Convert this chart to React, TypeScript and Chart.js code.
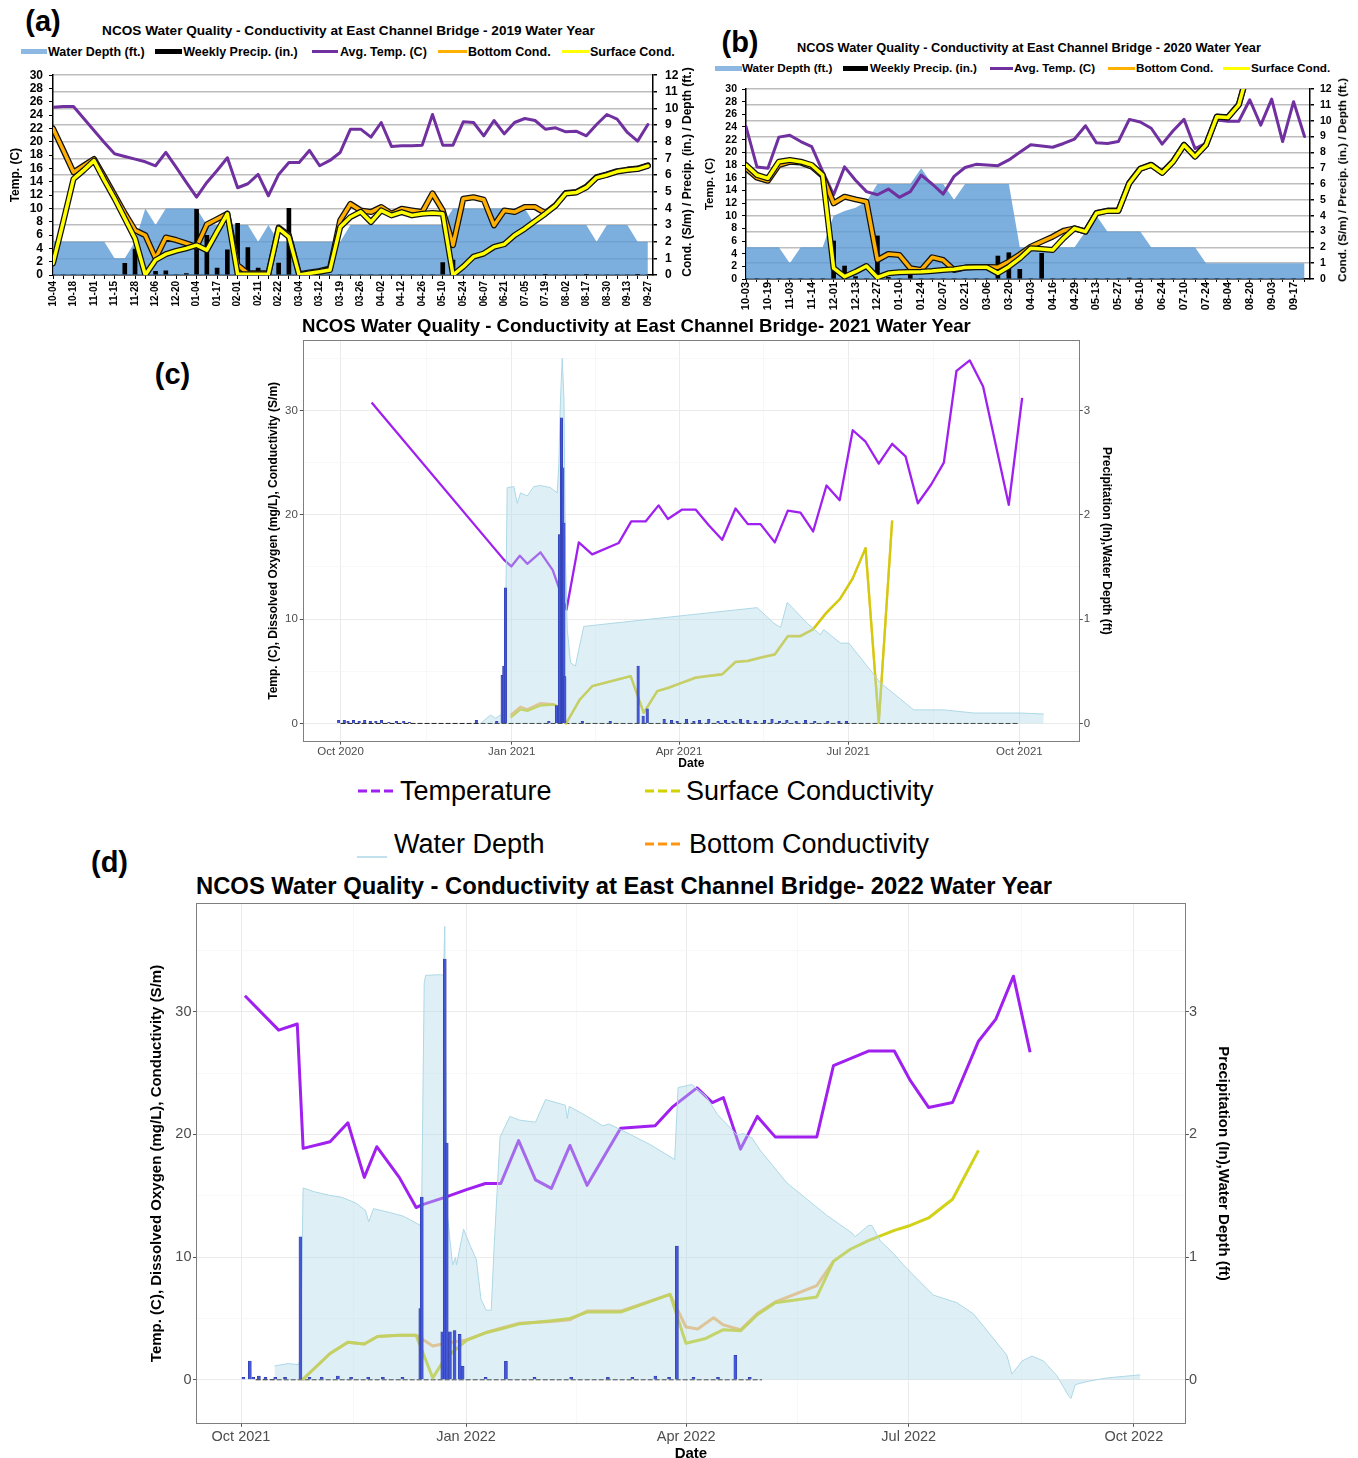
import React, { useEffect, useRef } from 'react';
import { Chart, registerables } from 'chart.js';
Chart.register(...registerables);

const FONT = '"Liberation Sans", Arial, Helvetica, sans-serif';
Chart.defaults.font.family = FONT;

// ================= (a) 2019 water year (weekly, half-step category index) =================
const labelsA = ['10-04','10-18','11-01','11-15','11-28','12-06','12-20','01-04','01-17','02-01','02-11','02-22','03-04','03-12','03-19','03-26','04-02','04-12','04-26','05-10','05-24','06-07','06-21','07-05','07-19','08-02','08-17','08-30','09-13','09-27'];
const depthA = [2,2,2,2,2,2,1,1,2,4,3,4,4,4,4,3,3,3,3,3,2,3,2,2,2,2,2,2,2,3,3,3,3,3,3,3,3,3,3,4,4,4,4,4,4,4,4,3,3,3,3,3,3,2,3,3,3,2,2];
const precipA = [0,0,0,0,0,0,0,0.7,1.55,0,0.22,0.25,0,0.08,3.94,2.39,0.42,1.51,3.1,1.65,0.42,0,0.72,4.0,0,0,0,0,0,0,0,0,0,0,0,0,0,0,0.75,0.9,0,0,0,0,0,0,0,0,0.03,0,0,0,0.03,0,0,0,0,0.04,0];
const tempA = [25.2,25.3,25.3,23.5,21.7,19.9,18.2,17.8,17.4,17.0,16.4,18.4,16.2,13.9,11.7,13.9,15.7,17.6,13.1,13.7,15.1,11.9,15.1,16.9,16.9,18.7,16.4,17.2,18.4,21.9,21.9,20.7,22.9,19.3,19.4,19.4,19.5,24.1,19.5,19.5,23.0,22.9,20.9,23.2,21.2,22.9,23.5,23.2,21.9,22.1,21.5,21.6,20.9,22.6,24.1,23.4,21.4,20.1,22.6];
const bottomA = [8.8,7.5,6.17,6.57,6.97,5.9,4.8,3.7,2.69,2.39,1.0,2.25,2.1,1.9,1.69,3.04,3.36,3.68,0.6,0.1,0.1,0.1,2.85,2.39,0.05,0.15,0.25,0.4,3.28,4.27,3.88,3.78,4.08,3.68,3.98,3.88,3.78,4.9,3.88,1.79,4.58,4.67,4.52,2.98,3.88,3.78,4.08,4.08,3.72,4.2,4.93,4.98,5.3,5.88,6.04,6.24,6.33,6.39,6.58];
const surfaceA = [0.7,3.2,5.77,6.3,6.87,5.7,4.6,3.4,2.19,0.0,0.9,1.25,1.45,1.6,1.79,1.49,2.6,3.68,0.05,0.05,0.05,0.05,2.8,2.29,0.0,0.1,0.2,0.3,2.88,3.48,3.8,3.18,3.88,3.58,3.78,3.58,3.68,3.73,3.68,0.0,0.5,1.1,1.29,1.69,1.85,2.39,2.78,3.24,3.68,4.17,4.9,4.95,5.26,5.85,6.01,6.21,6.3,6.36,6.55];

// ================= (b) 2020 water year =================
const labelsB = ['10-03','10-19','11-03','11-14','12-01','12-13','12-27','01-10','01-24','02-07','02-21','03-06','03-20','04-03','04-16','04-29','05-13','05-27','06-10','06-24','07-10','07-24','08-04','08-20','09-03','09-17'];
const depthB = [2,2,2,2,1,2,2,2,4,4.3,4.5,4.9,6,6,6,6,7,6,6,5,6,6,6,6,6,2,2,2,2,2,2,3,4,3,3,3,3,2,2,2,2,2,1,1,1,1,1,1,1,1,1,1];
const precipB = [0,0,0,0,0,0,0,0,2.4,0.82,0.15,0,2.72,0.1,0,0.25,0,0,0,0,0,0,0,1.45,1.66,0.61,0,1.62,0,0,0,0,0,0,0,0.06,0,0,0,0,0,0,0,0,0,0,0,0,0,0,0,0];
const tempB = [24.06,17.7,17.5,22.4,22.7,21.7,20.9,17.0,13.3,17.7,15.6,13.8,13.3,14.2,12.9,13.8,16.4,15.0,13.4,16.2,17.6,18.1,18.0,17.9,18.8,20.0,21.2,21.0,20.8,21.4,22.1,24.2,21.5,21.4,21.7,25.2,24.8,23.8,21.3,23.4,25.2,20.6,21.4,25.1,24.9,24.9,28.3,24.3,28.4,21.7,28.0,22.5];
const bottomB = [7.0,6.4,6.2,7.2,7.4,7.35,7.1,6.5,4.78,5.2,5.03,4.88,1.2,1.58,1.52,0.68,0.57,1.37,1.2,0.57,0.72,0.76,0.76,0.74,1.1,1.55,2.04,2.36,2.67,3.05,3.2,3.0,4.17,4.32,4.32,6.07,6.97,7.22,6.72,7.43,8.48,7.75,8.48,10.27,10.22,11.02,13.5,null,null,null,null,null];
const surfaceB = [7.2,6.57,6.36,7.41,7.52,7.41,7.2,6.57,0.68,0.15,0.46,0.82,0.1,0.36,0.42,0.44,0.46,0.5,0.57,0.62,0.72,0.74,0.74,0.36,0.78,1.3,1.94,1.9,1.83,2.57,3.2,2.99,4.15,4.3,4.3,6.05,6.95,7.2,6.7,7.41,8.46,7.73,8.46,10.25,10.2,11.0,13.5,null,null,null,null,null];

// ================= (c) 2021 water year (days since 2020-10-01) =================
const monthTicksC = [0, 92, 182, 273, 365];
const monthMinorC = [46, 137, 227.5, 319];
const monthLabelsC = ['Oct 2020', 'Jan 2021', 'Apr 2021', 'Jul 2021', 'Oct 2021'];
const tempDaysC = [16.7,87.8,91.8,96.4,100.4,107.5,114.1,121.5,128.1,135.3,149.6,156.3,164,171,176,183.7,190.9,198,205.2,212.4,219,225.8,233.5,240.5,247.3,254.1,261.3,268.4,275.4,282.3,289.4,296.6,303.8,310.4,317.6,324.4,331.2,338.3,345.5,359.3,366.5];
const tempValsC = [30.75,15.7,15.05,16.08,15.3,16.4,14.7,10.9,17.35,16.2,17.3,19.36,19.36,20.9,19.6,20.5,20.5,19.0,17.6,20.6,19.1,19.1,17.35,20.4,20.2,18.4,22.8,21.4,28.1,27.0,24.9,26.8,25.6,21.1,22.9,25.0,33.8,34.8,32.3,20.96,31.2];
const condDaysC = [91.4,96.8,100.4,107.5,114.1,115.6,121.3,128.7,135.3,156,163,170.3,176.5,182.8,190.9,198,205.2,212.4,219,225.8,233.5,240.5,247.3,254.1,261.3,268.4,275.4,282.3,289.4,296.6];
const surfValsC = [0.55,1.34,1.2,1.72,1.8,1.75,0.0,2.3,3.57,4.53,1.02,3.1,3.41,3.83,4.37,4.53,4.69,5.87,5.97,6.29,6.6,8.35,8.35,9.0,10.6,11.9,13.9,16.8,0.07,19.45];
const bottomValsC = [0.8,1.6,1.35,1.95,1.85,1.75,0.0,2.3,3.57,4.53,1.02,3.1,3.45,3.88,4.42,4.58,4.74,5.92,6.02,6.34,6.65,8.4,8.4,9.05,10.65,11.9,13.9,16.8,0.07,19.45];
const depthDaysC = [75.3,80.6,83.3,86.0,88.2,89.6,93.2,95.0,96.8,100.4,103.9,107.5,112.9,116.5,117.4,118.3,119.2,120.1,121.0,121.9,123.7,126.3,128.1,130.8,172,224,233,236.6,240.2,251,258,259.8,268.8,273.3,290.3,308.2,324.4,340.5,365.6,378.1];
const depthValsC = [0.0,0.08,0.05,0.08,0.1,2.26,2.27,2.11,2.21,2.18,2.27,2.28,2.26,2.21,2.49,3.13,3.5,3.13,1.54,0.9,0.58,0.55,0.71,0.93,1.01,1.11,0.96,0.92,1.16,0.96,0.85,0.9,0.77,0.77,0.39,0.13,0.13,0.1,0.1,0.09];
const precipDaysC = [-1,2,4,7,10,13,16,19,22,26,30,34,37,73,84,86.9,87.8,88.7,112,116.1,117.7,118.8,119.5,120.1,120.6,130,145,160,162.7,164.9,174,178,181,186,190,193,198,203,207,211,215,219,223,228,232,236,240,245,250,255,262,268,272];
const precipValsC = [0.03,0.03,0.02,0.03,0.02,0.03,0.02,0.02,0.03,0.01,0.02,0.02,0.01,0.03,0.02,0.46,0.55,1.3,0.02,0.17,1.81,2.93,2.45,1.92,0.45,0.02,0.02,0.55,0.07,0.14,0.04,0.03,0.02,0.04,0.02,0.03,0.04,0.02,0.03,0.02,0.04,0.03,0.02,0.03,0.04,0.02,0.03,0.02,0.03,0.02,0.02,0.02,0.02];
const recordDaysC = [0, 365];

// ================= (d) 2022 water year (days since 2021-10-01) =================
const monthTicksD = [0, 92, 182, 273, 365];
const monthMinorD = [46, 137, 227.5, 319];
const monthLabelsD = ['Oct 2021', 'Jan 2022', 'Apr 2022', 'Jul 2022', 'Oct 2022'];
const tempDaysD = [1.6,15.4,23,25.4,36.4,43.7,50.4,55.5,64.7,71.6,73.9,83.3,92.2,99.9,106.2,113.5,120.4,126.9,134.5,141.5,155.2,169.3,176.2,186.4,192.7,197.2,204.2,211.1,218.4,235.4,242.2,256.5,267.1,273.6,281.1,290.9,301.5,308.6,315.8,322.6];
const tempValsD = [31.3,28.5,29.0,18.86,19.4,20.95,16.5,19.0,16.5,14.04,14.26,14.87,15.5,16.0,16.0,19.5,16.3,15.6,19.1,15.85,20.5,20.7,22.2,23.8,22.6,23.0,18.8,21.47,19.8,19.8,25.6,26.8,26.8,24.4,22.2,22.6,27.6,29.4,32.9,26.7];
const surfDaysD = [25.1,36.4,43.7,50.4,55.8,64.7,71.6,78.4,83.3,92.2,99.9,106.2,113.5,126.9,134.5,141.5,155.2,175.4,181.9,190,197.2,204.2,211.1,218.4,235.4,242.2,249.1,256.5,267.1,273.6,281.1,290.9,301.5];
const surfValsD = [0,2.14,3.06,2.92,3.53,3.62,3.62,0.15,1.7,3.22,3.83,4.14,4.54,4.82,5.0,5.52,5.52,6.96,2.97,3.37,4.08,3.99,5.3,6.28,6.75,9.66,10.64,11.35,12.18,12.58,13.19,14.72,18.7];
const bottomDaysD = [25.1,36.4,43.7,50.4,55.8,64.7,71.6,78.4,83.3,92.2,99.9,106.2,113.5,126.9,134.5,141.5,155.2,175.4,181.9,186.7,193.2,197.2,204.2,211.1,218.4,235.4,242.2];
const bottomValsD = [0,2.14,3.06,2.92,3.53,3.62,3.62,2.76,2.95,3.25,3.83,4.2,4.6,4.75,4.9,5.6,5.6,6.96,4.3,4.14,5.06,4.47,4.08,5.4,6.34,7.67,9.66];
const depthDaysD = [13.7,19.4,23.5,24.3,25.4,29.9,36.4,41.3,46.9,50.9,52.2,54.2,60.6,66.3,72,73.3,73.9,74.9,75.5,81.6,82.8,83.3,84.1,86.5,87.7,88.1,91,93.8,96.2,98.1,100.2,102.3,103.5,105.9,109.9,114,120.4,124.5,132.6,133.4,134.2,141.5,147.9,150.4,155.2,167.3,176.2,177.3,178.7,184.3,190,194.8,202.9,205.4,208.9,212.3,223.2,239.5,249.8,251.1,256.5,257.9,261.3,266.8,270.8,278.4,283.1,292.7,299.5,307.6,313.1,315.2,319.3,323.4,328.1,333.6,338.3,339.3,341.1,345.8,354,367.6];
const depthValsD = [0.113,0.132,0.123,0.17,1.564,1.533,1.503,1.487,1.441,1.38,1.288,1.395,1.364,1.334,1.273,1.258,1.487,3.235,3.297,3.302,3.297,3.695,1.395,0.936,0.997,0.936,1.227,1.089,0.981,0.659,0.567,0.567,1.089,1.978,2.147,2.116,2.1,2.284,2.238,2.131,2.229,2.147,2.07,2.085,2.039,1.917,1.809,1.794,2.382,2.407,2.315,2.162,1.994,2.008,1.971,1.87,1.604,1.34,1.196,1.166,1.258,1.258,1.134,1.028,0.936,0.782,0.69,0.628,0.536,0.337,0.2,0.046,0.153,0.193,0.153,0.032,-0.131,-0.153,-0.04,-0.015,0.015,0.04];
const precipDaysD = [1,3.6,5,7.3,10,14,18,24.3,28,33,39.6,45,52,58,66,73.3,73.9,82.3,83.3,84.1,85.4,87.3,89.4,90.6,100,108.3,120,135,150,160,169.4,175,178.2,185,195,202.1,208];
const precipValsD = [0.02,0.153,0.02,0.03,0.02,0.02,0.02,1.165,0.02,0.02,0.03,0.02,0.02,0.02,0.02,0.58,1.49,0.39,3.43,1.93,0.39,0.4,0.37,0.11,0.02,0.15,0.02,0.02,0.02,0.02,0.03,0.02,1.09,0.02,0.02,0.2,0.02];
const recordDaysD = [6, 213];

// ================= helpers =================
const idx = (ys: any[]) => ys.map((y, i) => ({ x: i, y }));
const pairs = (xs: number[], ys: number[]) => xs.map((x, i) => ({ x, y: ys[i] }));
const steps = (a: number, b: number, s: number) => {
  const out: number[] = [];
  for (let v = a; v <= b + 1e-9; v += s) out.push(Math.round(v * 1000) / 1000);
  return out;
};
const tickVal = (c: any) => (c && c.tick ? c.tick.value : NaN);
const DEPTH_FILL = 'rgba(91,155,213,0.8)';

function excelConfig(p: any) {
  const xt = steps(0, p.n - 1, 1).map((v) => ({ value: v }));
  const bold = (size: number) => ({ family: FONT, size, weight: 'bold' as const });
  const ln = (label: string, data: any, axis: string, color: string, width: number, order: number) => ({
    type: 'line', label, data, yAxisID: axis, borderColor: color, borderWidth: width, pointRadius: 0,
    tension: 0, fill: false, order, borderJoinStyle: 'round', borderCapStyle: 'round',
  });
  return {
    type: 'line',
    data: {
      datasets: [
        { type: 'line', label: 'Water Depth (ft.)', data: idx(p.depth), yAxisID: 'y2', fill: 'origin', backgroundColor: DEPTH_FILL, borderColor: DEPTH_FILL, borderWidth: 0, pointRadius: 0, tension: 0, order: 10 },
        { type: 'bar', label: 'Weekly Precip. (in.)', data: idx(p.precip), yAxisID: 'y2', backgroundColor: '#000', barThickness: p.barW, grouped: false, order: 9 },
        ln('Avg. Temp. (C)', idx(p.temp), 'y', '#7030A0', 3, 8),
        ln('Bottom Cond. outline', idx(p.bottom), 'y2', '#111', 6, 7),
        ln('Bottom Cond.', idx(p.bottom), 'y2', '#FFB000', 3.5, 6),
        ln('Surface Cond. outline', idx(p.surface), 'y2', '#111', 6, 5),
        ln('Surface Cond.', idx(p.surface), 'y2', '#FFFF00', 3.5, 4),
      ],
    },
    options: {
      responsive: false, animation: false, devicePixelRatio: 1, events: [],
      layout: { padding: { top: p.padTop, left: 0, right: 0, bottom: 0 } },
      plugins: { legend: { display: false }, tooltip: { enabled: false }, title: { display: false } },
      scales: {
        x: {
          type: 'linear', min: 0, max: p.xMax, offset: false,
          afterBuildTicks: (s: any) => { s.ticks = xt; },
          afterFit: (s: any) => { s.height = p.xH; },
          ticks: {
            autoSkip: false, minRotation: 90, maxRotation: 90, padding: p.xPad, color: '#000', font: bold(p.xFont),
            callback: (v: number) => (v % 2 === 0 ? p.labels[v / 2] : ''),
          },
          grid: { drawOnChartArea: false, tickLength: p.xTick, tickColor: '#000', offset: false },
          border: { color: '#000', width: 1.5 },
        },
        y: {
          position: 'left', min: 0, max: 30,
          afterBuildTicks: (s: any) => { s.ticks = steps(0, 30, 2).map((v) => ({ value: v })); },
          afterFit: (s: any) => { s.width = p.yW; },
          ticks: { autoSkip: false, padding: p.yPad, color: '#000', font: bold(p.yFont) },
          grid: { drawOnChartArea: false, tickLength: 4, tickColor: '#000' },
          border: { color: '#000', width: 1.5 },
          title: { display: true, text: 'Temp. (C)', color: '#000', font: bold(p.yTitleFont), padding: { top: p.yTitlePad, bottom: 0 } },
        },
        y2: {
          position: 'right', min: 0, max: 12,
          afterBuildTicks: (s: any) => { s.ticks = steps(0, 12, 1).map((v) => ({ value: v })); },
          afterFit: (s: any) => { s.width = p.y2W; },
          ticks: { autoSkip: false, padding: p.y2Pad, color: '#000', font: bold(p.yFont) },
          grid: { color: '#BDBDBD', lineWidth: 1.5, tickLength: 4, tickColor: '#000' },
          border: { color: '#000', width: 1.5 },
        },
      },
    },
  };
}

function framePlugin(color: string) {
  return {
    id: 'frame',
    afterDraw(chart: any) {
      const { ctx, chartArea: a } = chart;
      ctx.save();
      ctx.strokeStyle = color;
      ctx.lineWidth = 1;
      ctx.strokeRect(Math.round(a.left) + 0.5, Math.round(a.top) + 0.5, Math.round(a.width) - 1, Math.round(a.height) - 1);
      ctx.restore();
    },
  };
}

function ggConfig(p: any) {
  const xTicks = [...p.xMajor, ...p.xMinor].sort((a: number, b: number) => a - b).map((v: number) => ({ value: v }));
  const yMajor = [0, 10, 20, 30];
  const yTicks = [0, 5, 10, 15, 20, 25, 30, 35].map((v) => ({ value: v }));
  const isMX = (v: number) => p.xMajor.includes(v);
  const isMY = (v: number) => yMajor.includes(v);
  const tickFont = { family: FONT, size: p.tickSize };
  const titleFont = { family: FONT, size: p.titleSize, weight: 'bold' as const, lineHeight: p.titleLH };
  const ln = (label: string, data: any, color: string, width: number, order: number) => ({
    type: 'line', label, data, yAxisID: 'y', borderColor: color, borderWidth: width, pointRadius: 0, tension: 0,
    fill: false, order, borderJoinStyle: 'round', borderCapStyle: 'butt',
  });
  return {
    type: 'line',
    data: {
      datasets: [
        { type: 'bar', label: 'Precipitation', data: pairs(p.precipDays, p.precipVals), yAxisID: 'y2', backgroundColor: '#4458D6', borderColor: '#26309A', borderWidth: 0.5, barThickness: p.barW, grouped: false, order: 0 },
        { type: 'line', label: 'Water Depth', data: pairs(p.depthDays, p.depthVals), yAxisID: 'y2', borderColor: '#ADD8E6', borderWidth: 1, backgroundColor: 'rgba(173,216,230,0.4)', fill: 'origin', pointRadius: 0, tension: 0, order: 1 },
        ln('Surface Conductivity', pairs(p.surfDays, p.surfVals), 'rgba(205,205,0,0.9)', p.lw, 2),
        ln('Bottom Conductivity', pairs(p.bottomDays, p.bottomVals), 'rgba(255,140,0,0.6)', p.lw, 3),
        ln('Temperature', pairs(p.tempDays, p.tempVals), '#A020F0', p.lw, 4),
        { type: 'line', label: 'Precip. record', data: pairs(p.recordDays, [0, 0]), yAxisID: 'y', borderColor: '#222', borderWidth: 1, borderDash: [5, 2], pointRadius: 0, order: 5 },
      ],
    },
    plugins: [framePlugin('#7F7F7F')],
    options: {
      responsive: false, animation: false, devicePixelRatio: 1, events: [],
      layout: { padding: { top: p.padTop, left: 0, right: 0, bottom: 0 } },
      plugins: { legend: { display: false }, tooltip: { enabled: false }, title: { display: false } },
      scales: {
        x: {
          type: 'linear', min: p.xMin, max: p.xMax, offset: false,
          afterBuildTicks: (s: any) => { s.ticks = xTicks; },
          afterFit: (s: any) => { s.height = p.xH; },
          ticks: {
            autoSkip: false, maxRotation: 0, minRotation: 0, padding: p.xPad, color: '#4D4D4D', font: tickFont,
            callback: (v: number) => { const i = p.xMajor.indexOf(v); return i >= 0 ? p.xLabels[i] : ''; },
          },
          grid: {
            offset: false,
            color: (c: any) => (isMX(tickVal(c)) ? '#EBEBEB' : '#F4F4F4'),
            lineWidth: (c: any) => (isMX(tickVal(c)) ? 1 : 0.6),
            tickLength: 3,
            tickColor: (c: any) => (isMX(tickVal(c)) ? '#555' : 'rgba(0,0,0,0)'),
          },
          border: { display: false },
          title: { display: true, text: 'Date', color: '#000', font: titleFont, padding: { top: 0, bottom: p.dateTitlePad } },
        },
        y: {
          position: 'left', min: p.yMin, max: p.yMax,
          afterBuildTicks: (s: any) => { s.ticks = yTicks; },
          afterFit: (s: any) => { s.width = p.yW; },
          ticks: { autoSkip: false, padding: p.yPad, color: '#4D4D4D', font: tickFont, callback: (v: number) => (isMY(v) ? String(v) : '') },
          grid: {
            color: (c: any) => (isMY(tickVal(c)) ? '#EBEBEB' : '#F4F4F4'),
            lineWidth: (c: any) => (isMY(tickVal(c)) ? 1 : 0.6),
            tickLength: 3,
            tickColor: (c: any) => (isMY(tickVal(c)) ? '#555' : 'rgba(0,0,0,0)'),
          },
          border: { display: false },
          title: { display: true, text: 'Temp. (C), Dissolved Oxygen (mg/L), Conductivity (S/m)', color: '#000', font: titleFont, padding: { top: 4, bottom: 0 } },
        },
        y2: {
          position: 'right', min: p.yMin / 10, max: p.yMax / 10,
          afterBuildTicks: (s: any) => { s.ticks = [0, 1, 2, 3].map((v) => ({ value: v })); },
          afterFit: (s: any) => { s.width = p.y2W; },
          ticks: { autoSkip: false, padding: p.y2Pad, color: '#4D4D4D', font: tickFont },
          grid: { drawOnChartArea: false, tickLength: 3, tickColor: '#555' },
          border: { display: false },
          title: { display: true, text: 'Precipitation (In),Water Depth (ft)', color: '#000', font: titleFont, padding: { top: 4, bottom: 0 } },
        },
      },
    },
  };
}

function ChartCanvas({ left, top, width, height, make }: any) {
  const ref = useRef<HTMLCanvasElement>(null);
  useEffect(() => {
    let chart: any = null;
    try {
      chart = new Chart(ref.current as HTMLCanvasElement, make());
    } catch (e) {
      console.error(e);
    }
    return () => { if (chart) chart.destroy(); };
  }, []);
  return <canvas ref={ref} width={width} height={height} style={{ position: 'absolute', left, top, width, height }} />;
}

function Txt({ x, y, size, bold = false, anchor = 'middle', rotate = 0, color = '#000', children }: any) {
  const tx = anchor === 'start' ? '0%' : anchor === 'end' ? '-100%' : '-50%';
  return (
    <div style={{
      position: 'absolute', left: x, top: y, transform: `translate(${tx}, -50%) rotate(${rotate}deg)`,
      fontFamily: FONT, fontSize: size, fontWeight: bold ? 700 : 400, lineHeight: 1, whiteSpace: 'nowrap', color,
    }}>{children}</div>
  );
}

function Swatch({ x, y, w, h, color }: any) {
  return <div style={{ position: 'absolute', left: x, top: y - h / 2, width: w, height: h, background: color }} />;
}

function Dash({ x, y, w, color, dashed = true, thick = 3 }: any) {
  return (
    <svg style={{ position: 'absolute', left: x, top: y - 4 }} width={w} height={8}>
      <line x1={0} y1={4} x2={w} y2={4} stroke={color} strokeWidth={thick} strokeDasharray={dashed ? '9 4' : undefined} />
    </svg>
  );
}

const T19 = 'NCOS Water Quality - Conductivity at East Channel Bridge - 2019 Water Year';
const T20 = 'NCOS Water Quality - Conductivity at East Channel Bridge - 2020 Water Year';
const T21 = 'NCOS Water Quality - Conductivity at East Channel Bridge- 2021 Water Year';
const T22 = 'NCOS Water Quality - Conductivity at East Channel Bridge- 2022 Water Year';
const RIGHT_EXCEL = 'Cond. (S/m) / Precip. (in.) / Depth (ft.)';

export default function App() {
  return (
    <div style={{ position: 'absolute', left: 0, top: 0, width: 1358, height: 1458, overflow: 'hidden', background: '#fff' }}>
      {/* ---------- (a) ---------- */}
      <Txt x={43} y={21} size={29} bold>(a)</Txt>
      <Txt x={348.5} y={30.7} size={13.6} bold>{T19}</Txt>
      <Swatch x={20.7} y={51.7} w={26} h={5} color="#8DB8E2" />
      <Txt x={48} y={51.7} size={12.5} bold anchor="start">Water Depth (ft.)</Txt>
      <Swatch x={155} y={51.7} w={27} h={5} color="#000" />
      <Txt x={183.3} y={51.7} size={12.5} bold anchor="start">Weekly Precip. (in.)</Txt>
      <Swatch x={311.7} y={51.7} w={26} h={2.5} color="#7030A0" />
      <Txt x={340} y={51.7} size={12.5} bold anchor="start">Avg. Temp. (C)</Txt>
      <Swatch x={438} y={51.7} w={29} h={3} color="#FFB000" />
      <Txt x={468} y={51.7} size={12.5} bold anchor="start">Bottom Cond.</Txt>
      <Swatch x={561.7} y={51.7} w={27} h={3} color="#FFFF00" />
      <Txt x={590} y={51.7} size={12.5} bold anchor="start">Surface Cond.</Txt>
      <ChartCanvas left={0} top={60} width={700} height={260} make={() => excelConfig({
        n: 59, xMax: 58.5, labels: labelsA, depth: depthA, precip: precipA, temp: tempA, bottom: bottomA, surface: surfaceA,
        padTop: 14, yW: 53, y2W: 47, xH: 45, xFont: 10, yFont: 12, yTitleFont: 12, yTitlePad: 8,
        xPad: 2, xTick: 4, yPad: 6, y2Pad: 8, barW: 4,
      })} />
      <Txt x={686.7} y={172} size={12} bold rotate={-90}>{RIGHT_EXCEL}</Txt>

      {/* ---------- (b) ---------- */}
      <Txt x={740} y={41.5} size={29} bold>(b)</Txt>
      <Txt x={1029} y={48.3} size={12.8} bold>{T20}</Txt>
      <Swatch x={715} y={68.3} w={27} h={5} color="#8DB8E2" />
      <Txt x={742} y={68.3} size={11.7} bold anchor="start">Water Depth (ft.)</Txt>
      <Swatch x={843.3} y={68.3} w={25} h={5} color="#000" />
      <Txt x={870} y={68.3} size={11.7} bold anchor="start">Weekly Precip. (in.)</Txt>
      <Swatch x={990} y={68.3} w={23} h={2.5} color="#7030A0" />
      <Txt x={1014} y={68.3} size={11.7} bold anchor="start">Avg. Temp. (C)</Txt>
      <Swatch x={1108} y={68.3} w={27} h={3} color="#FFB000" />
      <Txt x={1136} y={68.3} size={11.7} bold anchor="start">Bottom Cond.</Txt>
      <Swatch x={1223} y={68.3} w={27} h={3} color="#FFFF00" />
      <Txt x={1251} y={68.3} size={11.7} bold anchor="start">Surface Cond.</Txt>
      <ChartCanvas left={700} top={75} width={658} height={245} make={() => excelConfig({
        n: 52, xMax: 51.5, labels: labelsB, depth: depthB, precip: precipB, temp: tempB, bottom: bottomB, surface: surfaceB,
        padTop: 14, yW: 46, y2W: 48, xH: 41, xFont: 11, yFont: 10.5, yTitleFont: 11.5, yTitlePad: 3,
        xPad: 0, xTick: 3, yPad: 5, y2Pad: 6, barW: 4,
      })} />
      <Txt x={1341.7} y={180} size={11.7} bold rotate={-90}>{RIGHT_EXCEL}</Txt>

      {/* ---------- (c) ---------- */}
      <Txt x={172.5} y={374} size={29} bold>(c)</Txt>
      <Txt x={302} y={326} size={18.6} bold anchor="start">{T21}</Txt>
      <ChartCanvas left={261.5} top={330} width={856} height={443} make={() => ggConfig({
        xMin: -20.3, xMax: 397.5, xMajor: monthTicksC, xMinor: monthMinorC, xLabels: monthLabelsC,
        yMin: -1.75, yMax: 36.75,
        tempDays: tempDaysC, tempVals: tempValsC, surfDays: condDaysC, surfVals: surfValsC,
        bottomDays: condDaysC, bottomVals: bottomValsC, depthDays: depthDaysC, depthVals: depthValsC,
        precipDays: precipDaysC, precipVals: precipValsC, recordDays: recordDaysC,
        padTop: 10, yW: 40.8, y2W: 38.2, xH: 31.3, tickSize: 11.5, titleSize: 12, titleLH: 1.2,
        dateTitlePad: 1.8, xPad: 0, yPad: 2, y2Pad: 1, lw: 2.3, barW: 2.5,
      })} />
      <Dash x={358} y={791} w={35} color="#A020F0" />
      <Txt x={400} y={791} size={27} anchor="start">Temperature</Txt>
      <Dash x={645} y={791} w={35} color="#D2D200" />
      <Txt x={686} y={791} size={27} anchor="start">Surface Conductivity</Txt>
      <Dash x={357} y={857} w={30} color="#ADD8E6" dashed={false} thick={1.5} />
      <Txt x={394} y={844} size={27} anchor="start">Water Depth</Txt>
      <Dash x={645} y={844} w={35} color="#FF9410" />
      <Txt x={689} y={844} size={27} anchor="start">Bottom Conductivity</Txt>

      {/* ---------- (d) ---------- */}
      <Txt x={109.5} y={862} size={29} bold>(d)</Txt>
      <Txt x={196} y={886} size={23.8} bold anchor="start">{T22}</Txt>
      <ChartCanvas left={144.8} top={893} width={1090} height={568} make={() => ggConfig({
        xMin: -18.4, xMax: 386.3, xMajor: monthTicksD, xMinor: monthMinorD, xLabels: monthLabelsD,
        yMin: -3.59, yMax: 38.85,
        tempDays: tempDaysD, tempVals: tempValsD, surfDays: surfDaysD, surfVals: surfValsD,
        bottomDays: bottomDaysD, bottomVals: bottomValsD, depthDays: depthDaysD, depthVals: depthValsD,
        precipDays: precipDaysD, precipVals: precipValsD, recordDays: recordDaysD,
        padTop: 10, yW: 51, y2W: 49.1, xH: 37.2, tickSize: 14.5, titleSize: 15, titleLH: 1,
        dateTitlePad: 0, xPad: 1, yPad: 1.5, y2Pad: 0, lw: 3, barW: 3,
      })} />
    </div>
  );
}
